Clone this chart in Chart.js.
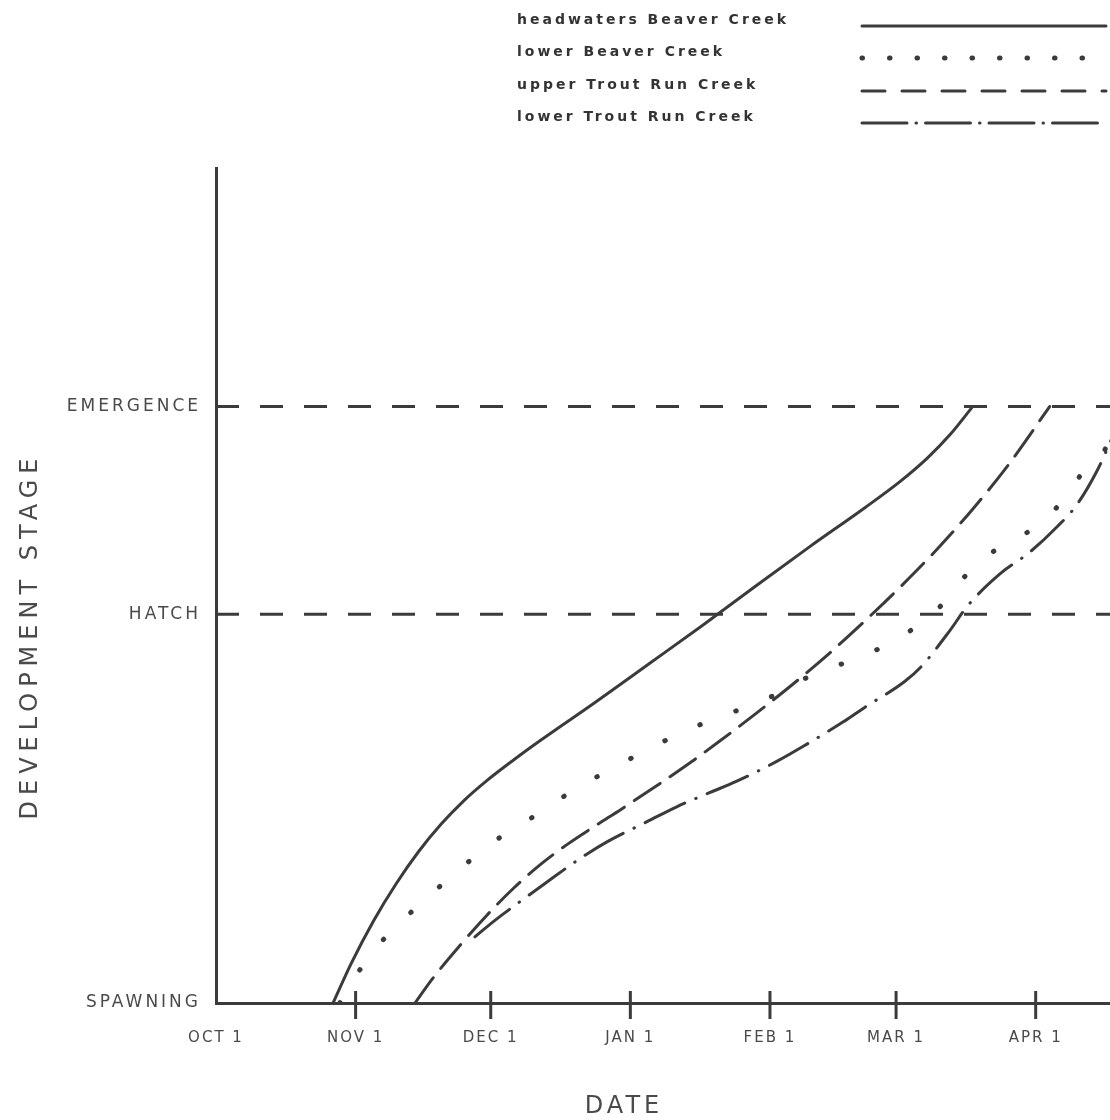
<!DOCTYPE html>
<html>
<head>
<meta charset="utf-8">
<script src="https://cdn.jsdelivr.net/npm/chart.js@4.4.0/dist/chart.umd.min.js"></script>
<style>
  html, body { margin: 0; padding: 0; background: #fff; }
</style>
</head>
<body>
<canvas id="chart" width="1110" height="1120"></canvas>
<script>
// days since Oct 1 on x, development (spawning = 0, emergence = 100) on y
const monthDays = [0, 31, 61, 92, 123, 151, 182]
const monthLabels = ['OCT 1', 'NOV 1', 'DEC 1', 'JAN 1', 'FEB 1', 'MAR 1', 'APR 1']
const stageValues = [0, 65.2, 100]
const stageLabels = ['SPAWNING', 'HATCH', 'EMERGENCE']

const seriesNames = ['headwaters Beaver Creek', 'lower Beaver Creek', 'upper Trout Run Creek', 'lower Trout Run Creek']

const hwDays = [26, 30, 35, 40, 45, 50, 55, 60, 66, 72, 84, 96, 108, 120, 132, 144, 152, 158, 163, 168]
const hwStage = [0, 6.6, 13.8, 20.0, 25.4, 30.0, 33.9, 37.2, 40.7, 44.0, 50.3, 56.8, 63.3, 70.0, 76.6, 83.0, 87.5, 91.4, 95.3, 100]

const lbDays = [27.5, 29.3, 34.4, 40.8, 47.7, 55.3, 63.3, 71.9, 79.0, 87.2, 95.9, 103.9, 112.3, 118.8, 123.4, 131.9, 138.1, 146.9, 154.7, 160.7, 165.2, 170.0, 176.2, 182.9, 188.5, 192.7, 196.9, 199.6, 201.1]
const lbStage = [0, 2.4, 8.2, 13.4, 18.2, 23.2, 27.9, 31.9, 35.5, 39.0, 42.5, 45.5, 48.1, 49.9, 51.4, 54.8, 56.6, 59.3, 62.7, 66.4, 70.6, 74.3, 77.3, 80.3, 84.7, 89.2, 92.1, 97.1, 100]

const utDays = [44.2, 48, 54, 60, 66, 72, 78, 84, 90, 96, 104, 112, 120, 128, 136, 144, 152, 160, 168, 176, 185.1]
const utStage = [0, 4.0, 9.5, 14.6, 19.2, 23.2, 26.6, 29.6, 32.5, 35.5, 39.6, 44.0, 48.6, 53.4, 58.5, 64.0, 69.8, 76.0, 82.8, 90.3, 100]

const ltDays = [57.5, 62, 68.6, 73.5, 81.2, 87.0, 95.7, 102.3, 109.7, 115.4, 124.5, 130.3, 139.2, 144.1, 152.9, 156.7, 162.9, 166.9, 174.0, 180.7, 186.7, 191.1, 195.6, 198.4, 200.7]
const ltStage = [11.1, 13.9, 17.6, 20.3, 24.4, 27.1, 30.4, 32.9, 35.3, 37.1, 40.5, 43.0, 47.1, 49.6, 53.9, 56.5, 62.4, 66.6, 71.9, 75.6, 79.8, 83.5, 89.2, 93.8, 98.0]

const xMax = 198.5
const ink = '#3b3b3b'
const textInk = '#4a4a4a'
const family = '"DejaVu Sans", sans-serif'

const pts = (xs, ys) => xs.map((x, i) => ({x: x, y: ys[i]}))

function curve(name, xs, ys, dash, legendDash, width) {
    return {
        label: name,
        data: pts(xs, ys),
        borderColor: ink,
        borderWidth: width,
        borderDash: dash,
        borderCapStyle: 'round',
        cubicInterpolationMode: 'monotone',
        legendDash: legendDash,
        fill: false
    }
}

function refLine(i) {
    return {
        label: stageLabels[i],
        data: pts([0, xMax], [stageValues[i], stageValues[i]]),
        borderColor: ink,
        borderWidth: 3,
        borderDash: [23, 21],
        isRef: true
    }
}

// tick label colour callback also sets the letter spacing used for that axis
const spaced = px => c => {
    c.chart.ctx.letterSpacing = px
    return textInk
}

const decor = {
    id: 'decor',
    beforeDraw(chart) {
        const ctx = chart.ctx
        ctx.save()
        ctx.fillStyle = '#fff'
        ctx.fillRect(0, 0, chart.width, chart.height)
        ctx.restore()
    },
    afterDraw(chart) {
        const ctx = chart.ctx
        const area = chart.chartArea
        const xs = chart.scales.x
        ctx.save()
        // tick marks crossing the date axis
        ctx.strokeStyle = ink
        ctx.lineWidth = 3
        xs.ticks.forEach(t => {
            if (t.value === 0) return
            const px = xs.getPixelForValue(t.value)
            ctx.beginPath()
            ctx.moveTo(px, area.bottom - 12)
            ctx.lineTo(px, area.bottom + 16)
            ctx.stroke()
        })

        // axis titles
        ctx.fillStyle = textInk
        ctx.textAlign = 'center'
        ctx.textBaseline = 'middle'
        ctx.font = '24px ' + family
        ctx.letterSpacing = '4px'
        ctx.fillText('DATE', 624, 1107)
        ctx.save()
        ctx.translate(31, 636)
        ctx.rotate(-Math.PI / 2)
        ctx.letterSpacing = '6px'
        ctx.fillText('DEVELOPMENT STAGE', 0, 0)
        ctx.restore()

        // legend, text left and line sample right
        const rows = [20, 52, 85, 117]
        ctx.textAlign = 'left'
        ctx.font = 'bold 14px ' + family
        ctx.letterSpacing = '3px'
        chart.data.datasets.filter(d => !d.isRef).forEach((d, i) => {
            const y = rows[i]
            ctx.fillStyle = '#333'
            ctx.fillText(d.label, 517, y)
            ctx.beginPath()
            ctx.strokeStyle = ink
            ctx.lineWidth = d.borderWidth
            ctx.lineCap = 'round'
            ctx.setLineDash(d.legendDash)
            ctx.moveTo(862, y + 6)
            ctx.lineTo(1106, y + 6)
            ctx.stroke()
        })
        ctx.restore()
    }
}

window.onload = () => {
    new Chart(document.getElementById('chart'), {
        type: 'line',
        data: {
            datasets: [
                curve(seriesNames[0], hwDays, hwStage, [], [], 3),
                curve(seriesNames[1], lbDays, lbStage, [0.5, 38], [0.5, 27], 5),
                curve(seriesNames[2], utDays, utStage, [31, 12], [23, 17], 3),
                curve(seriesNames[3], ltDays, ltStage, [44, 12, 0.5, 12], [45, 9, 0.5, 9], 3),
                refLine(1),
                refLine(2)
            ]
        },
        options: {
            responsive: false,
            animation: false,
            devicePixelRatio: 1,
            layout: {padding: {top: 168, left: 0, right: 0, bottom: 0}},
            elements: {point: {radius: 0}},
            plugins: {legend: {display: false}, tooltip: {enabled: false}},
            scales: {
                x: {
                    type: 'linear',
                    min: 0,
                    max: xMax,
                    afterFit: s => { s.height = 117 },
                    afterBuildTicks: s => { s.ticks = monthDays.map(v => ({value: v})) },
                    grid: {display: false, drawTicks: false},
                    border: {display: true, color: ink, width: 3},
                    ticks: {
                        callback: v => monthLabels[monthDays.indexOf(v)],
                        font: {family: family, size: 15},
                        color: spaced('2px'),
                        padding: 26,
                        maxRotation: 0,
                        autoSkip: false
                    }
                },
                y: {
                    type: 'linear',
                    min: 0,
                    max: 140,
                    afterFit: s => { s.width = 216 },
                    afterBuildTicks: s => { s.ticks = stageValues.map(v => ({value: v})) },
                    grid: {display: false, drawTicks: false},
                    border: {display: true, color: ink, width: 3},
                    ticks: {
                        callback: v => stageLabels[stageValues.indexOf(v)],
                        font: {family: family, size: 17},
                        color: spaced('3px'),
                        padding: 15,
                        autoSkip: false
                    }
                }
            }
        },
        plugins: [decor]
    })
}
</script>
</body>
</html>
